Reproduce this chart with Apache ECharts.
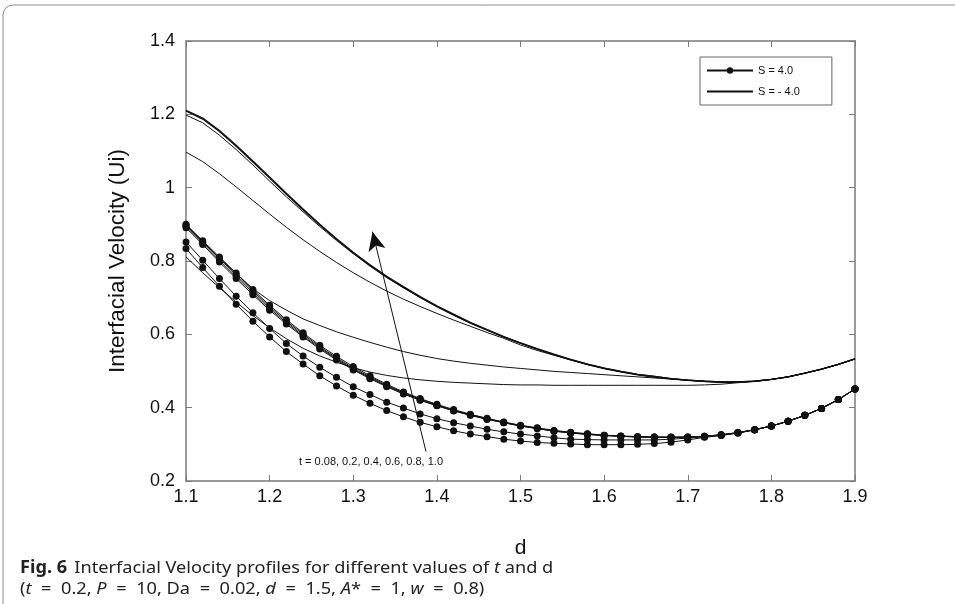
<!DOCTYPE html>
<html>
<head>
<meta charset="utf-8">
<script src="https://cdn.jsdelivr.net/npm/echarts@6/dist/echarts.min.js"></script>
<style>
html,body{margin:0;padding:0;background:#fff;}
#c{width:955px;height:604px;}
</style>
</head>
<body>
<div id="c"></div>
<script>
// x values (d)
const dVals = [1.10,1.12,1.14,1.16,1.18,1.20,1.22,1.24,1.26,1.28,1.30,1.32,1.34,1.36,1.38,1.40,1.42,1.44,1.46,1.48,1.50,1.52,1.54,1.56,1.58,1.60,1.62,1.64,1.66,1.68,1.70,1.72,1.74,1.76,1.78,1.80,1.82,1.84,1.86,1.88,1.90];
const tLabels = ['0.08','0.2','0.4','0.6','0.8','1.0'];

// S = 4.0 (with markers)
const sP_t008 = [0.834,0.782,0.731,0.682,0.636,0.593,0.553,0.519,0.487,0.459,0.434,0.412,0.392,0.375,0.360,0.348,0.337,0.328,0.321,0.314,0.309,0.305,0.303,0.301,0.299,0.299,0.299,0.300,0.302,0.306,0.312,0.319,0.324,0.331,0.339,0.350,0.363,0.379,0.398,0.422,0.451];
const sP_t02  = [0.852,0.802,0.752,0.704,0.659,0.616,0.575,0.541,0.510,0.483,0.457,0.436,0.415,0.399,0.383,0.370,0.359,0.350,0.341,0.334,0.328,0.323,0.318,0.314,0.313,0.312,0.312,0.312,0.312,0.314,0.317,0.321,0.325,0.331,0.340,0.350,0.363,0.379,0.398,0.422,0.451];
const sP_t04  = [0.891,0.845,0.797,0.752,0.708,0.666,0.628,0.593,0.560,0.530,0.503,0.479,0.457,0.437,0.420,0.405,0.391,0.379,0.368,0.359,0.350,0.343,0.336,0.331,0.327,0.324,0.322,0.320,0.319,0.319,0.319,0.321,0.325,0.331,0.340,0.350,0.363,0.379,0.398,0.422,0.451];
const sP_t06  = [0.894,0.849,0.802,0.757,0.713,0.670,0.632,0.596,0.563,0.533,0.505,0.481,0.459,0.439,0.421,0.406,0.392,0.380,0.369,0.359,0.350,0.343,0.336,0.331,0.327,0.324,0.322,0.320,0.319,0.319,0.319,0.322,0.326,0.332,0.340,0.350,0.363,0.379,0.398,0.422,0.451];
const sP_t08  = [0.898,0.852,0.807,0.762,0.718,0.675,0.636,0.600,0.566,0.536,0.508,0.484,0.461,0.441,0.423,0.407,0.393,0.381,0.370,0.360,0.351,0.344,0.337,0.332,0.328,0.325,0.322,0.321,0.320,0.319,0.320,0.322,0.326,0.332,0.340,0.350,0.363,0.379,0.398,0.422,0.451];
const sP_t10  = [0.900,0.855,0.811,0.767,0.722,0.679,0.640,0.604,0.570,0.540,0.512,0.487,0.464,0.443,0.425,0.409,0.395,0.382,0.371,0.361,0.352,0.345,0.338,0.333,0.329,0.325,0.323,0.321,0.320,0.320,0.320,0.322,0.326,0.332,0.340,0.350,0.363,0.379,0.398,0.422,0.451];

// S = -4.0 (plain lines)
const sM_t008 = [0.811,0.768,0.727,0.688,0.651,0.618,0.588,0.562,0.541,0.524,0.509,0.497,0.488,0.481,0.476,0.472,0.469,0.467,0.465,0.463,0.462,0.462,0.461,0.461,0.461,0.461,0.461,0.461,0.461,0.461,0.461,0.462,0.464,0.468,0.472,0.477,0.484,0.494,0.505,0.518,0.533];
const sM_t02  = [0.897,0.852,0.808,0.766,0.724,0.692,0.666,0.642,0.624,0.607,0.592,0.578,0.565,0.553,0.543,0.534,0.527,0.521,0.516,0.511,0.507,0.503,0.499,0.496,0.493,0.490,0.487,0.484,0.481,0.478,0.475,0.472,0.470,0.470,0.472,0.477,0.484,0.494,0.505,0.518,0.533];
const sM_t04  = [1.097,1.071,1.038,1.002,0.965,0.928,0.892,0.858,0.826,0.796,0.768,0.742,0.718,0.696,0.676,0.657,0.639,0.622,0.605,0.589,0.571,0.556,0.543,0.530,0.517,0.506,0.497,0.489,0.483,0.478,0.474,0.471,0.470,0.470,0.472,0.477,0.484,0.494,0.505,0.518,0.533];
const sM_t06  = [1.198,1.177,1.143,1.104,1.062,1.018,0.975,0.934,0.894,0.856,0.820,0.786,0.755,0.727,0.700,0.675,0.652,0.630,0.611,0.592,0.575,0.559,0.544,0.530,0.518,0.507,0.498,0.490,0.484,0.479,0.475,0.472,0.470,0.470,0.472,0.477,0.484,0.494,0.505,0.518,0.533];
const sM_t08  = [1.209,1.187,1.153,1.113,1.070,1.026,0.982,0.939,0.898,0.859,0.822,0.788,0.756,0.728,0.701,0.676,0.653,0.631,0.612,0.593,0.576,0.560,0.545,0.531,0.519,0.508,0.499,0.491,0.485,0.479,0.475,0.472,0.470,0.470,0.472,0.477,0.484,0.494,0.505,0.518,0.533];
const sM_t10  = [1.211,1.190,1.156,1.116,1.073,1.029,0.985,0.942,0.900,0.861,0.824,0.790,0.758,0.730,0.703,0.678,0.655,0.633,0.613,0.594,0.577,0.561,0.546,0.532,0.519,0.508,0.499,0.491,0.485,0.479,0.475,0.472,0.470,0.470,0.472,0.477,0.484,0.494,0.505,0.518,0.533];

// arrow annotation (data space): tail and head
const arrowTail = [1.387, 0.280];
const arrowHead = [1.323, 0.880];
const arrowText = 't = ' + tLabels.join(', ');

const NAME_POS = 'S = 4.0';
const NAME_NEG = 'S = - 4.0';
const FONT = '"Liberation Sans", Arial, sans-serif';
const CAP = '"Noto Sans", sans-serif';
const INK = '#111';
const AXIS = '#7a7a7a';

const pos = [sP_t008, sP_t02, sP_t04, sP_t06, sP_t08, sP_t10];
const neg = [sM_t008, sM_t02, sM_t04, sM_t06, sM_t08, sM_t10];
const pair = arr => arr.map((v, i) => [dVals[i], v]);

const series = [];
pos.forEach(arr => {
  series.push({
    name: NAME_POS, type: 'line', data: pair(arr),
    symbol: 'circle', symbolSize: 7, showSymbol: true,
    lineStyle: {color: INK, width: 1}, itemStyle: {color: INK},
    emphasis: {disabled: true}, z: 3
  });
});
neg.forEach((arr, k) => {
  series.push({
    name: NAME_NEG, type: 'line', data: pair(arr),
    symbol: 'none', showSymbol: false,
    lineStyle: {color: INK, width: (k >= 4 ? 1.3 : 1)}, itemStyle: {color: INK},
    emphasis: {disabled: true}, z: 2
  });
});
// arrow
series.push({
  type: 'line', data: [], silent: true,
  markLine: {
    silent: true, animation: false,
    symbol: ['none', 'arrow'], symbolSize: [13, 19],
    lineStyle: {color: INK, width: 1, type: 'solid'},
    label: {show: false},
    data: [[{coord: arrowTail}, {coord: arrowHead}]]
  }
});

const fmt = v => String(parseFloat(v.toFixed(2)));
const sp = ' \u2009\u200A=\u2009\u200A ';

const chart = echarts.init(document.getElementById('c'), null, {renderer: 'canvas'});
chart.setOption({
  animation: false,
  backgroundColor: '#fff',
  grid: {left: 186, top: 41, right: 100, bottom: 123, containLabel: false},
  legend: {
    data: [
      {name: NAME_POS},
      {name: NAME_NEG, itemStyle: {opacity: 0}}
    ],
    orient: 'vertical', left: 700, top: 57,
    itemWidth: 46, itemHeight: 8, itemGap: 10,
    padding: [8, 32, 8, 6],
    borderColor: '#666', borderWidth: 1,
    textStyle: {fontFamily: FONT, fontSize: 11, color: INK},
    selectedMode: false
  },
  xAxis: [{
    type: 'value', min: 1.1, max: 1.9, interval: 0.1,
    name: 'd', nameLocation: 'middle', nameGap: 57,
    nameTextStyle: {fontFamily: FONT, fontSize: 21, color: INK},
    axisLine: {show: true, lineStyle: {color: AXIS, width: 1.5}},
    axisTick: {show: true, inside: true, length: 6, lineStyle: {color: AXIS}},
    axisLabel: {fontFamily: FONT, fontSize: 18, color: INK, margin: 7, formatter: fmt},
    splitLine: {show: false}
  }, {
    type: 'value', min: 1.1, max: 1.9, interval: 0.1, position: 'top',
    axisLine: {show: true, lineStyle: {color: AXIS, width: 1.5}},
    axisTick: {show: true, inside: true, length: 6, lineStyle: {color: AXIS}},
    axisLabel: {show: false}, splitLine: {show: false}
  }],
  yAxis: [{
    type: 'value', min: 0.2, max: 1.4, interval: 0.2,
    name: 'Interfacial Velocity (Ui)', nameLocation: 'middle', nameGap: 57,
    nameTextStyle: {fontFamily: FONT, fontSize: 22.5, color: INK},
    axisLine: {show: true, lineStyle: {color: AXIS, width: 1.5}},
    axisTick: {show: true, inside: true, length: 6, lineStyle: {color: AXIS}},
    axisLabel: {fontFamily: FONT, fontSize: 18, color: INK, margin: 11, formatter: fmt},
    splitLine: {show: false}
  }, {
    type: 'value', min: 0.2, max: 1.4, interval: 0.2, position: 'right',
    axisLine: {show: true, lineStyle: {color: AXIS, width: 1.5}},
    axisTick: {show: true, inside: true, length: 6, lineStyle: {color: AXIS}},
    axisLabel: {show: false}, splitLine: {show: false}
  }],
  series: series,
  graphic: [
    {type: 'rect', shape: {x: 3, y: 5, width: 1100, height: 800, r: 10}, style: {fill: 'none', stroke: '#8c8c8c', lineWidth: 1}, silent: true, z: -1},
    {type: 'text', x: 299, y: 462, style: {text: arrowText, font: '11px ' + FONT, fill: INK, textVerticalAlign: 'middle'}, z: 10},
    {type: 'text', x: 20, y: 568, scaleX: 1.07, style: {
      text: '{b|Fig. 6}  {n|Interfacial Velocity profiles for different values of }{i|t}{n| and d}',
      textVerticalAlign: 'middle',
      rich: {
        b: {fontFamily: CAP, fontWeight: 'bold', fontSize: 17, fill: '#222'},
        n: {fontFamily: CAP, fontSize: 17, fill: '#222'},
        i: {fontFamily: CAP, fontStyle: 'italic', fontSize: 17, fill: '#222'}
      }}, z: 10},
    {type: 'text', x: 20, y: 589, scaleX: 1.07, style: {
      text: '{n|(}{i|t}{n|' + sp + '0.2, }{i|P}{n|' + sp + '10, Da' + sp + '0.02, }{i|d}{n|' + sp + '1.5, }{i|A}{n|*' + sp + '1, }{i|w}{n|' + sp + '0.8)}',
      textVerticalAlign: 'middle',
      rich: {
        n: {fontFamily: CAP, fontSize: 17, fill: '#222'},
        i: {fontFamily: CAP, fontStyle: 'italic', fontSize: 17, fill: '#222'}
      }}, z: 10}
  ]
});
</script>
</body>
</html>
